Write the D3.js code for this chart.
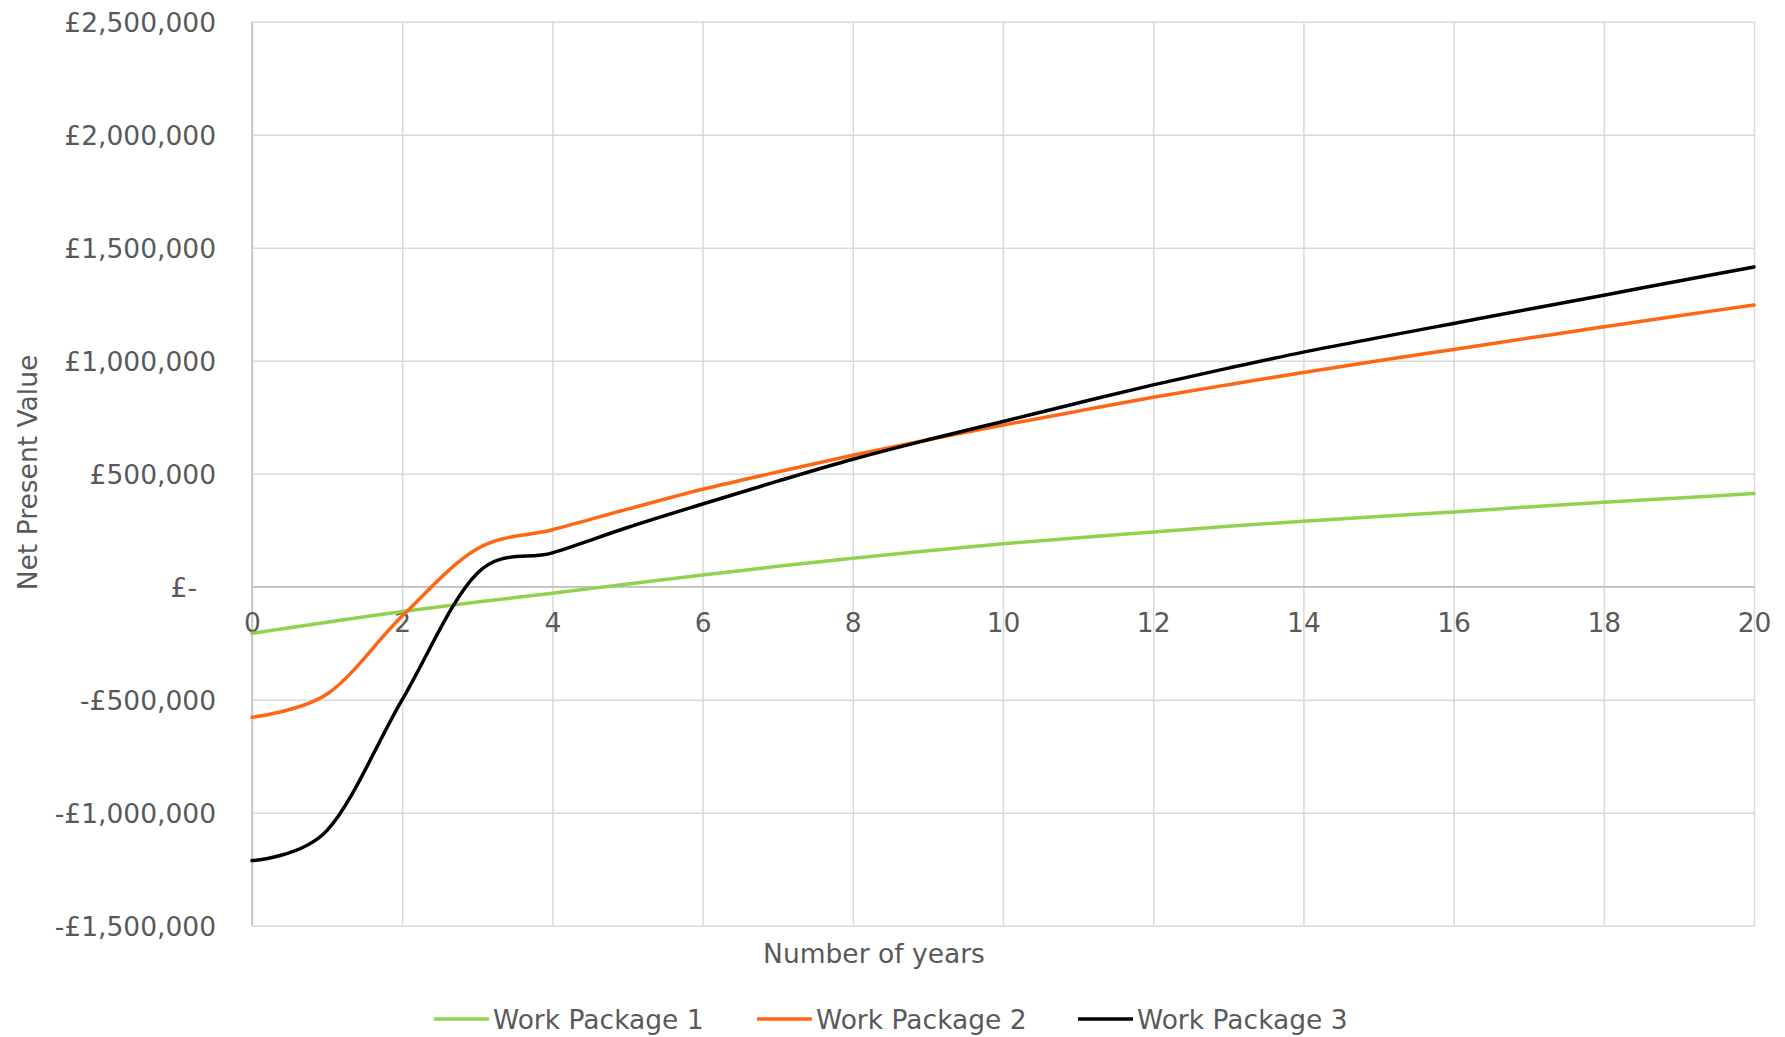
<!DOCTYPE html>
<html>
<head>
<meta charset="utf-8">
<script src="https://cdn.jsdelivr.net/npm/d3@7"></script>
<style>
  html, body { margin: 0; padding: 0; background: #ffffff; }
  svg text { font-family: "DejaVu Sans", Verdana, sans-serif; fill: #595959; }
</style>
</head>
<body>
<svg id="chart" width="1785" height="1037"></svg>
<script>
// Net present value of each work package over a 20-year horizon
const years = [0, 1, 2, 3, 4, 5, 6, 7, 8, 9, 10, 11, 12, 13, 14, 15, 16, 17, 18, 19, 20];
const xTicks = [0, 2, 4, 6, 8, 10, 12, 14, 16, 18, 20];
const yTicks = [-1500000, -1000000, -500000, 0, 500000, 1000000, 1500000, 2000000, 2500000];

const seriesNames = ["Work Package 1", "Work Package 2", "Work Package 3"];
const workPackage1 = [-206000, -157000, -110000, -68000, -29000, 12000, 52000, 90000, 126000, 159000,
  190000, 217000, 242000, 267000, 290000, 311000, 331000, 353000, 374000, 393000, 412000];
const workPackage2 = [-578000, -475000, -130000, 168000, 252000, 343000, 431000, 508000, 582000, 650000,
  715000, 777000, 838000, 894000, 948000, 1000000, 1050000, 1100000, 1150000, 1199000, 1246000];
const workPackage3 = [-1212000, -1078000, -500000, 60000, 150000, 262000, 366000, 467000, 564000, 650000,
  731000, 813000, 893000, 967000, 1038000, 1102000, 1165000, 1228000, 1290000, 1353000, 1415000];
const seriesColors = ["#92d050", "#ff6614", "#000000"];

const seriesValues = [workPackage1, workPackage2, workPackage3];
const series = seriesNames.map((name, i) => ({
  name,
  color: seriesColors[i],
  points: years.map((t, j) => ({ t, v: seriesValues[i][j] }))
}));

const svg = d3.select("#chart");
const plot = { left: 252, right: 1754, top: 21.7, bottom: 925.7 };

const x = d3.scaleLinear().domain([0, 20]).range([plot.left, plot.right]);
const y = d3.scaleLinear().domain([-1500000, 2500000]).range([plot.bottom, plot.top]);

const money = d3.format(",");
const fmtY = v => v === 0 ? "£-" : (v < 0 ? "-£" : "£") + money(Math.abs(v));

// Horizontal gridlines
const hGrid = svg.append("g")
  .attr("transform", `translate(${plot.left},0)`)
  .call(d3.axisLeft(y).tickValues(yTicks).tickSize(-(plot.right - plot.left)).tickFormat(""));
hGrid.select(".domain").remove();
hGrid.selectAll("line").attr("stroke", "#d9d9d9").attr("stroke-width", 1.5);

// Vertical gridlines
const vGrid = svg.append("g")
  .attr("transform", `translate(0,${plot.bottom})`)
  .call(d3.axisBottom(x).tickValues(xTicks).tickSize(-(plot.bottom - plot.top)).tickFormat(""));
vGrid.select(".domain").remove();
vGrid.selectAll("line").attr("stroke", "#d9d9d9").attr("stroke-width", 1.5);

// Value axis on the left edge
svg.append("line")
  .attr("x1", plot.left).attr("x2", plot.left)
  .attr("y1", plot.top).attr("y2", plot.bottom)
  .attr("stroke", "#bfbfbf").attr("stroke-width", 1.5);

// Category axis crossing at zero
svg.append("line")
  .attr("x1", plot.left).attr("x2", plot.right)
  .attr("y1", y(0)).attr("y2", y(0))
  .attr("stroke", "#bfbfbf").attr("stroke-width", 1.5);

// Y tick labels
const yAxis = svg.append("g")
  .attr("transform", `translate(216,0)`)
  .call(d3.axisLeft(y).tickValues(yTicks).tickSize(0).tickPadding(0).tickFormat(fmtY));
yAxis.select(".domain").remove();
yAxis.selectAll("text")
  .attr("font-size", "26.5px")
  .attr("font-family", null)
  .attr("fill", "#595959")
  .attr("dy", "0.36em")
  .attr("x", d => d === 0 ? -19 : 0);

// X tick labels just under the zero line
const xAxis = svg.append("g")
  .attr("transform", `translate(0,${y(0)})`)
  .call(d3.axisBottom(x).tickValues(xTicks).tickSize(0).tickFormat(d3.format("d")));
xAxis.select(".domain").remove();
xAxis.selectAll("text")
  .attr("font-size", "26.5px")
  .attr("font-family", null)
  .attr("fill", "#595959")
  .attr("y", 45)
  .attr("dy", 0);

// Series lines, smoothed
const line = d3.line()
  .x(d => x(d.t))
  .y(d => y(d.v))
  .curve(d3.curveCatmullRom.alpha(0));

svg.append("g").selectAll("path")
  .data(series)
  .join("path")
  .attr("d", d => line(d.points))
  .attr("fill", "none")
  .attr("stroke", d => d.color)
  .attr("stroke-width", 3.5)
  .attr("stroke-linejoin", "round")
  .attr("stroke-linecap", "round");

// Axis titles
svg.append("text")
  .attr("transform", "translate(37,472.5) rotate(-90)")
  .attr("text-anchor", "middle")
  .attr("font-size", "26.5px")
  .text("Net Present Value");

svg.append("text")
  .attr("x", 874)
  .attr("y", 963)
  .attr("text-anchor", "middle")
  .attr("font-size", "26.5px")
  .text("Number of years");

// Legend
const legendX = [434, 757, 1078];
const legend = svg.append("g")
  .selectAll("g")
  .data(series)
  .join("g")
  .attr("transform", (d, i) => `translate(${legendX[i]},1019)`);
legend.append("line")
  .attr("x1", 0).attr("x2", 55)
  .attr("y1", 0).attr("y2", 0)
  .attr("stroke", d => d.color)
  .attr("stroke-width", 3.6);
legend.append("text")
  .attr("x", 59)
  .attr("y", 10)
  .attr("font-size", "26.5px")
  .text(d => d.name);
</script>
</body>
</html>
